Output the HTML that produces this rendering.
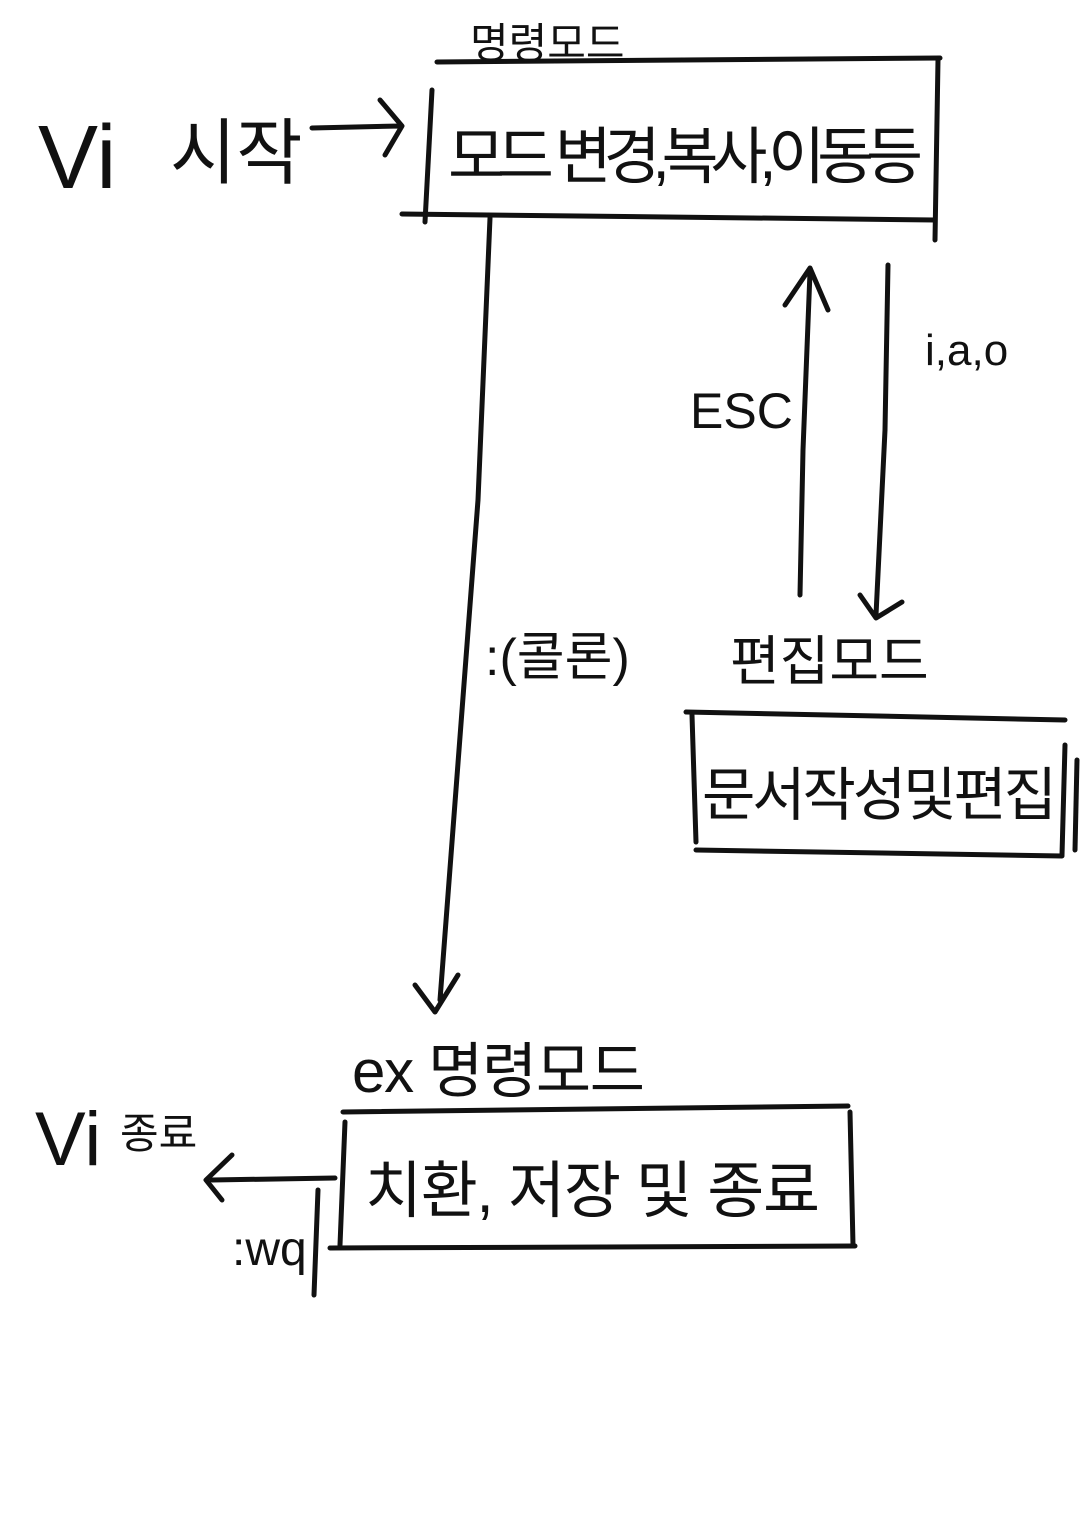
<!DOCTYPE html>
<html><head><meta charset="utf-8">
<style>
html,body{margin:0;padding:0;background:#fff;}
svg{display:block;}
text{font-family:"Liberation Sans","Noto Sans CJK KR","NanumGothic",sans-serif;fill:#111;}
</style></head>
<body>
<svg width="1080" height="1527" viewBox="0 0 1080 1527">
<g stroke="#111" stroke-width="5" fill="none" stroke-linecap="round" stroke-linejoin="round">
  <g>
    <path d="M437 62 L940 58"/>
    <path d="M432 90 L425 222"/>
    <path d="M402 214 L935 220"/>
    <path d="M938 60 L935 240"/>
  </g>
  <path d="M312 128 L400 126 M380 100 L402 126 L385 155"/>
  <path d="M490 218 L478 500 L440 1000 M415 985 L435 1012 L458 975"/>
  <path d="M800 595 L803 450 L810 272 M785 305 L810 268 L828 310"/>
  <path d="M888 265 L885 430 L876 615 M860 595 L876 618 L902 602"/>
  <g>
    <path d="M686 712 L1065 720"/>
    <path d="M692 715 L696 842"/>
    <path d="M696 850 L1062 856"/>
    <path d="M1065 745 L1062 855"/>
    <path d="M1077 760 L1075 850"/>
  </g>
  <g>
    <path d="M343 1112 L848 1106"/>
    <path d="M345 1122 L340 1245"/>
    <path d="M850 1112 L853 1245"/>
    <path d="M330 1248 L855 1246"/>
  </g>
  <path d="M335 1178 L212 1180 M232 1155 L206 1180 L222 1200"/>
  <path d="M318 1190 L314 1295"/>
</g>
<text x="470" y="58" font-size="42">명령모드</text>
<text x="38" y="188" font-size="90">Vi</text>
<text x="170" y="178" font-size="72">시작</text>
<text x="448" y="178" font-size="62" textLength="475">모드 변경,복사,이동등</text>
<text x="690" y="428" font-size="50">ESC</text>
<text x="925" y="365" font-size="44">i,a,o</text>
<text x="485" y="675" font-size="52">:(콜론)</text>
<text x="730" y="680" font-size="54">편집모드</text>
<text x="702" y="815" font-size="58" textLength="355">문서작성및편집</text>
<text x="352" y="1092" font-size="60" textLength="293">ex 명령모드</text>
<text x="365" y="1212" font-size="62" textLength="455">치환, 저장 및 종료</text>
<text x="35" y="1165" font-size="76">Vi</text>
<text x="120" y="1148" font-size="42">종료</text>
<text x="232" y="1265" font-size="48">:wq</text>
</svg>
</body></html>
